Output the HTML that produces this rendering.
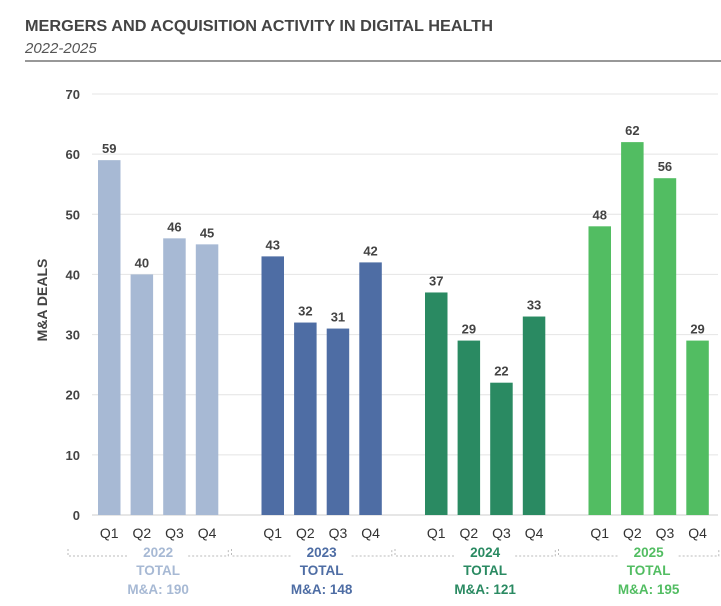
<!DOCTYPE html>
<html><head><meta charset="utf-8"><style>
body{margin:0;background:#fff;width:721px;height:601px;overflow:hidden;font-family:"Liberation Sans",sans-serif}
</style></head><body>
<svg id="chart" width="721" height="601" xmlns="http://www.w3.org/2000/svg">
<text x="25" y="31" font-size="15.5" font-weight="bold" fill="#444" textLength="468" lengthAdjust="spacingAndGlyphs">MERGERS AND ACQUISITION ACTIVITY IN DIGITAL HEALTH</text>
<text x="25" y="53" font-size="15" font-style="italic" fill="#555">2022-2025</text>
<line x1="25" y1="61" x2="721" y2="61" stroke="#777" stroke-width="1.5"/>
<text transform="translate(47,300) rotate(-90)" text-anchor="middle" font-size="14" font-weight="bold" fill="#444">M&amp;A DEALS</text>
<g id="grid"></g><g id="bars"></g><g id="labels"></g>
</svg>
<script>
const years=["2022","2023","2024","2025"];
const quarters=["Q1","Q2","Q3","Q4"];
const values2022=[59,40,46,45];
const values2023=[43,32,31,42];
const values2024=[37,29,22,33];
const values2025=[48,62,56,29];
const totals=[190,148,121,195];
const yTicks=[0,10,20,30,40,50,60,70];
const series=[values2022,values2023,values2024,values2025];
const colors=["#a7b9d4","#4e6da4","#2a8a62","#52bd62"];
const ns="http://www.w3.org/2000/svg";
const y=v=>515-v*(421/70);
const x=(g,q)=>98+g*163.5+q*32.6;
function mk(tag,attrs,parent,text){const e=document.createElementNS(ns,tag);for(const k in attrs)e.setAttribute(k,attrs[k]);if(text!=null)e.textContent=text;document.getElementById(parent).appendChild(e);return e;}
yTicks.forEach(t=>{
 const l=mk('line',{x1:92,x2:718,y1:y(t),y2:y(t),stroke:t===0?'#ccc':'#e4e4e4','stroke-width':1},'grid');
 
 
 const tx=mk('text',{x:80,y:y(t)+5,'text-anchor':'end','font-size':13,'font-weight':'bold',fill:'#444'},'grid',t);
 
 
});
series.forEach((vals,g)=>{
 vals.forEach((v,q)=>{
  const bx=x(g,q);
  const r=mk('rect',{x:bx,y:y(v),width:22.5,height:515-y(v),fill:colors[g]},'bars');
  
  
  const lb=mk('text',{x:bx+11.25,y:y(v)-7,'text-anchor':'middle','font-size':13,'font-weight':'bold',fill:'#444'},'labels',v);
  
  
  const ql=mk('text',{x:bx+11.25,y:538,'text-anchor':'middle','font-size':14,fill:'#333'},'labels',quarters[q]);
  
  
 });
 const cx=x(g,0)+(x(g,3)+22.5-x(g,0))/2;
 const left=x(g,0)-30, right=x(g,3)+22.5+10;
 const br=mk('path',{d:`M${left},549 V556 H${cx-30} M${cx+30},556 H${right} V549`,fill:'none',stroke:'#bbb','stroke-dasharray':'2,2'},'labels');
 
 
 [[years[g],557],['TOTAL',575],['M&A: '+totals[g],594]].forEach((t,i)=>{
  const e=mk('text',{x:cx,y:t[1],'text-anchor':'middle','font-size':13.5,'font-weight':'bold',fill:colors[g]},'labels',t[0]);
  
  
 });
});
</script>
</body></html>
